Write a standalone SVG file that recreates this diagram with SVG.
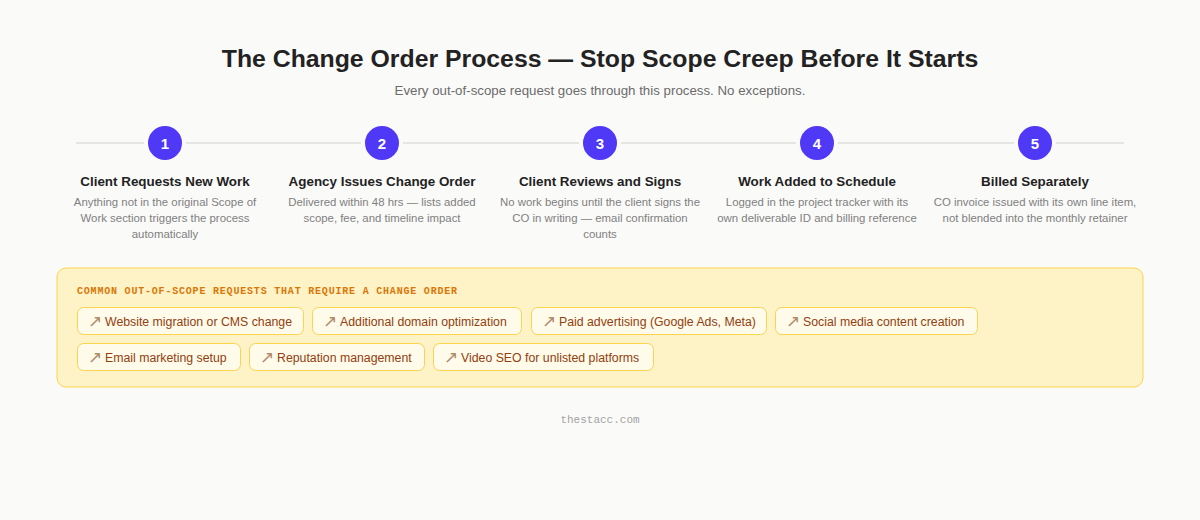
<svg xmlns="http://www.w3.org/2000/svg" width="1200" height="520" viewBox="0 0 1200 520">
<style>
.title{font-family:"Liberation Sans",Arial,sans-serif;font-weight:bold;font-size:24.8px;fill:#222;text-anchor:middle}
.sub{font-family:"Liberation Sans",Arial,sans-serif;font-size:13.3px;fill:#6b6b6b;text-anchor:middle}
.num{font-family:"Liberation Sans",Arial,sans-serif;font-weight:bold;font-size:15px;fill:#fff;text-anchor:middle}
.circ{fill:#4f39f6;stroke:#fafaf9;stroke-width:4}
.st{font-family:"Liberation Sans",Arial,sans-serif;font-weight:bold;font-size:13.4px;fill:#222;text-anchor:middle}
.desc{font-family:"Liberation Sans",Arial,sans-serif;font-size:11.4px;fill:#808080;text-anchor:middle}
.hdr{font-family:"Liberation Mono","DejaVu Sans Mono",monospace;font-weight:bold;font-size:10px;fill:#d97706;letter-spacing:0.8px}
.chip{fill:#fffbeb;stroke:#fcd34d;stroke-width:1}
.ct{font-family:"Liberation Sans",Arial,sans-serif;font-size:12.3px;fill:#92400e}
.arr{font-family:"Noto Sans","DejaVu Sans",sans-serif;font-size:17px;fill:#b08a6a}
.foot{font-family:"Liberation Mono","DejaVu Sans Mono",monospace;font-size:11px;fill:#a3a3a3;text-anchor:middle}
</style>
<rect width="1200" height="520" fill="#fafaf9"/>
<text class="title" x="600" y="67">The Change Order Process — Stop Scope Creep Before It Starts</text>
<text class="sub" x="600" y="95">Every out-of-scope request goes through this process. No exceptions.</text>
<g id="connectors">
<line x1="76" y1="143" x2="1124" y2="143" stroke="#e5e5e3" stroke-width="2"/>
</g>
<g id="step1">
<circle class="circ" cx="165" cy="143" r="19"/>
<text class="num" x="165" y="148.5">1</text>
<text class="st" x="165" y="186">Client Requests New Work</text>
<text class="desc" x="165" y="206">Anything not in the original Scope of</text>
<text class="desc" x="165" y="222">Work section triggers the process</text>
<text class="desc" x="165" y="238">automatically</text>
</g>
<g id="step2">
<circle class="circ" cx="382" cy="143" r="19"/>
<text class="num" x="382" y="148.5">2</text>
<text class="st" x="382" y="186">Agency Issues Change Order</text>
<text class="desc" x="382" y="206">Delivered within 48 hrs — lists added</text>
<text class="desc" x="382" y="222">scope, fee, and timeline impact</text>
</g>
<g id="step3">
<circle class="circ" cx="600" cy="143" r="19"/>
<text class="num" x="600" y="148.5">3</text>
<text class="st" x="600" y="186">Client Reviews and Signs</text>
<text class="desc" x="600" y="206">No work begins until the client signs the</text>
<text class="desc" x="600" y="222">CO in writing — email confirmation</text>
<text class="desc" x="600" y="238">counts</text>
</g>
<g id="step4">
<circle class="circ" cx="817" cy="143" r="19"/>
<text class="num" x="817" y="148.5">4</text>
<text class="st" x="817" y="186">Work Added to Schedule</text>
<text class="desc" x="817" y="206">Logged in the project tracker with its</text>
<text class="desc" x="817" y="222">own deliverable ID and billing reference</text>
</g>
<g id="step5">
<circle class="circ" cx="1035" cy="143" r="19"/>
<text class="num" x="1035" y="148.5">5</text>
<text class="st" x="1035" y="186">Billed Separately</text>
<text class="desc" x="1035" y="206">CO invoice issued with its own line item,</text>
<text class="desc" x="1035" y="222">not blended into the monthly retainer</text>
</g>
<g id="requests">
<rect x="57" y="268" width="1086" height="119" rx="9" fill="#fef3c6" stroke="#fcd34d" stroke-width="1"/>
<text class="hdr" x="77" y="294">COMMON OUT-OF-SCOPE REQUESTS THAT REQUIRE A CHANGE ORDER</text>
<g id="chip1"><rect class="chip" x="77.5" y="307.5" width="226" height="27" rx="6"/><text class="arr" x="88" y="327">↗</text><text class="ct" x="105" y="325.5">Website migration or CMS change</text></g>
<g id="chip2"><rect class="chip" x="312.5" y="307.5" width="209" height="27" rx="6"/><text class="arr" x="323" y="327">↗</text><text class="ct" x="340" y="325.5">Additional domain optimization</text></g>
<g id="chip3"><rect class="chip" x="531.5" y="307.5" width="235" height="27" rx="6"/><text class="arr" x="542" y="327">↗</text><text class="ct" x="559" y="325.5">Paid advertising (Google Ads, Meta)</text></g>
<g id="chip4"><rect class="chip" x="775.5" y="307.5" width="202" height="27" rx="6"/><text class="arr" x="786" y="327">↗</text><text class="ct" x="803" y="325.5">Social media content creation</text></g>
<g id="chip5"><rect class="chip" x="77.5" y="343.5" width="163" height="27" rx="6"/><text class="arr" x="88" y="363">↗</text><text class="ct" x="105" y="361.5">Email marketing setup</text></g>
<g id="chip6"><rect class="chip" x="249.5" y="343.5" width="175" height="27" rx="6"/><text class="arr" x="260" y="363">↗</text><text class="ct" x="277" y="361.5">Reputation management</text></g>
<g id="chip7"><rect class="chip" x="433.5" y="343.5" width="220" height="27" rx="6"/><text class="arr" x="444" y="363">↗</text><text class="ct" x="461" y="361.5">Video SEO for unlisted platforms</text></g>
</g>
<text class="foot" x="600" y="423">thestacc.com</text>
</svg>
